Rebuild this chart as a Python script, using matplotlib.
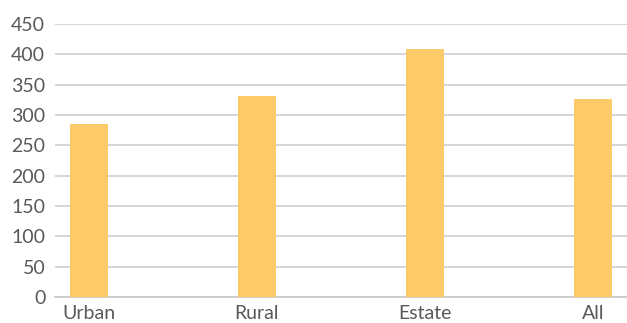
import matplotlib.pyplot as plt

categories = ["Urban", "Rural", "Estate", "All"]
values = [285, 331, 409, 326]
y_ticks = [0, 50, 100, 150, 200, 250, 300, 350, 400, 450]

plt.rcParams['font.family'] = ['Lato', 'DejaVu Sans']

fig = plt.figure(figsize=(6.27, 3.23), dpi=100)
ax = fig.add_axes([55 / 627, 1 - 297 / 323, 1 - 55 / 627, (297 - 24) / 323])

x = range(len(categories))
ax.bar(x, values, width=0.225, color="#FCCA69", zorder=3)

ax.set_xlim(-0.2, 3.2)
ax.set_ylim(0, 450)
ax.set_yticks(y_ticks)
ax.set_xticks(list(x))
ax.set_xticklabels(categories)

ax.grid(axis="y", color="#d0d0d0", linewidth=1.2, zorder=0)
for side in ["top", "right", "left"]:
    ax.spines[side].set_visible(False)
ax.spines["bottom"].set_color("#c8c8c8")
ax.spines["bottom"].set_linewidth(1.2)
ax.tick_params(axis="both", length=0, labelsize=14, labelcolor="#595959")
ax.tick_params(axis="y", pad=7)
ax.tick_params(axis="x", pad=6)

fig.savefig("out.png", dpi=100)
